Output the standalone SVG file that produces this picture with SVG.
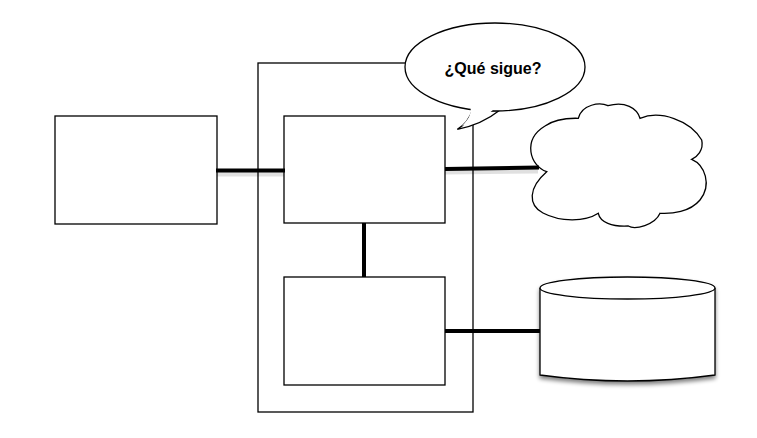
<svg xmlns="http://www.w3.org/2000/svg" width="757" height="438" viewBox="0 0 757 438">
<style>
.box{fill:#fff;stroke:#000;stroke-width:1.3}
.conn{stroke:#000;stroke-width:4;fill:none}
.shadow{stroke:#000;stroke-opacity:0.12;stroke-width:5;fill:none}
.lbl{font-family:"Liberation Sans",Arial,sans-serif;font-weight:bold;font-size:16px;fill:#000}
</style>
<defs>
<filter id="sh" x="-10%" y="-10%" width="120%" height="130%">
<feGaussianBlur in="SourceAlpha" stdDeviation="2"/>
<feOffset dx="0" dy="3" result="b"/>
<feComponentTransfer><feFuncA type="linear" slope="0.5"/></feComponentTransfer>
<feMerge><feMergeNode/><feMergeNode in="SourceGraphic"/></feMerge>
</filter>
</defs>
<rect width="757" height="438" fill="#fff"/>
<g id="container"><rect class="box" x="258" y="63" width="215" height="349"/></g>
<g id="client"><rect class="box" x="55" y="116" width="162" height="108"/></g>
<g id="server-top"><rect class="box" x="284" y="116" width="161" height="107"/></g>
<g id="server-bottom"><rect class="box" x="284" y="277" width="161" height="108"/></g>
<g id="cloud">
<path class="box" d="M546.7,171.7 C530,166 522,140 545,126 C555,119 568,118 578.3,118.3 C582,104 600,102 608,105.7 C625,101 637,108 640,118.3 C660,110 690,120 701.7,140 C704,150 697,157 691.7,159.3 C705,165 712,185 700,200 C690,212 672,214 660,213.3 C655,225 635,230 628.3,226 C612,227 600,222 598.3,213.3 C585,222 560,222 543,213 C528,205 528,188 546.7,171.7 Z"/>
</g>
<g id="database" filter="url(#sh)">
<path class="box" d="M540,288 L540,375 Q627.5,387 715,375 L715,288"/>
<ellipse class="box" cx="627.5" cy="288" rx="87.5" ry="11"/>
</g>
<g id="bubble">
<path class="box" d="M472.7,109.3 C470,118 465,125 457.3,129.3 C475,126 490,118 500,110 C480,112 475,111 472.7,109.3 Z"/>
<ellipse class="box" cx="495" cy="67" rx="90" ry="44"/>
<path d="M470,105 C472,112 470,118 462,126 C478,121 490,114 497,106 Z" fill="#fff"/>
<text class="lbl" x="493" y="74" text-anchor="middle">¿Qué sigue?</text>
</g>
<g id="connectors">
<line class="shadow" x1="217" y1="174" x2="284" y2="174"/>
<line class="shadow" x1="445" y1="172" x2="538" y2="171"/>
<line class="conn" x1="216" y1="170.5" x2="285" y2="170.5"/>
<line class="conn" x1="445" y1="169" x2="539" y2="167.5"/>
<line class="conn" x1="364" y1="223" x2="364" y2="277"/>
<line class="conn" x1="445" y1="331" x2="540" y2="331"/>
</g>
</svg>
